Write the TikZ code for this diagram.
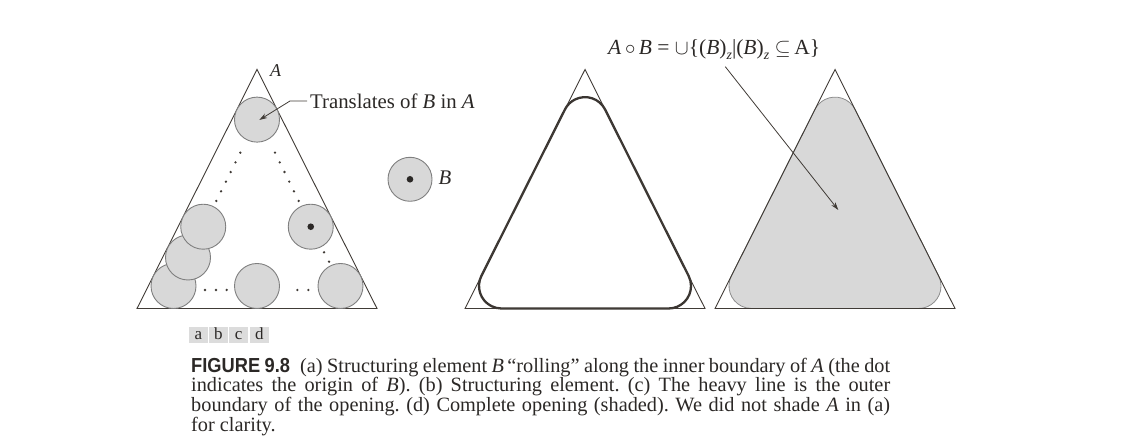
\documentclass[tikz,border=0pt]{standalone}
\usepackage{fontspec}
\setmainfont{Liberation Serif}
\newfontfamily\figfont{Liberation Sans}[FakeStretch=0.9]
\usetikzlibrary{arrows.meta,calc}
\definecolor{ink}{HTML}{403B36}
\definecolor{txt}{HTML}{2B2826}
\definecolor{diskfill}{HTML}{D8D8D8}
\definecolor{diskline}{HTML}{7F7F7F}
\definecolor{heavy}{HTML}{3A3531}
\definecolor{cellgray}{HTML}{DCDCDC}
\definecolor{shadeline}{HTML}{8C8C8C}
\newcommand\TriPath[1]{({#1},368.5) -- ({#1+120},129.5) -- ({#1-120},129.5) -- cycle}
\newcommand\OpenPath[1]{({#1},318.37) ++(26.66:22.5) arc[start angle=26.66,end angle=153.34,radius=22.5] -- ($({#1-83.51},152)+(153.34:22.5)$) arc[start angle=153.34,end angle=270,radius=22.5] -- ($({#1+83.51},152)+(270:22.5)$) arc[start angle=270,end angle=386.66,radius=22.5] -- cycle}
\newcommand\TightLines{\lineskiplimit=-30pt\relax\lineskip=0pt\relax\frenchspacing}
\newcommand\SubZ{\raisebox{-4.5pt}{\fontsize{14}{14}\selectfont\textit{z}}}
\tikzset{
  tri/.style={draw=ink, line width=0.9pt, line join=miter},
  disk/.style={draw=diskline, fill=diskfill, line width=0.9pt},
  heavyline/.style={draw=heavy, line width=2.3pt},
  shaded/.style={draw=shadeline, fill=diskfill, line width=0.8pt},
  arr/.style={draw=ink, line width=0.8pt, -{Stealth[length=8pt,width=5pt]}},
  lbl/.style={text=txt, inner sep=0pt, font=\fontsize{20.8}{22}\selectfont},
  cell/.style={fill=cellgray, inner sep=0pt, text height=12.9pt, text depth=3.7pt, align=center, text=txt, font=\fontsize{17}{17}\selectfont},
}
\begin{document}
\begin{tikzpicture}[x=1pt,y=1pt]
\useasboundingbox (0,0) rectangle (1139,438);
% ---------- (a) ----------
\draw[tri] \TriPath{257};
\filldraw[disk] (173.5,152) circle (22.5);
\filldraw[disk] (188,180.5) circle (22.5);
\filldraw[disk] (203.24,211.28) circle (22.5);
\filldraw[disk] (257,318.37) circle (22.5);
\filldraw[disk] (257,152) circle (22.5);
\filldraw[disk] (340.5,152) circle (22.5);
\filldraw[disk] (310.76,211.28) circle (22.5);
\fill[txt] (310.76,211.28) circle (3.3);
\foreach \i in {0,...,5} {
  \fill[ink] ($(240.3,285.3)!\i/5!(216.3,237)$) circle (1.3);
  \fill[ink] ($(275,285.3)!\i/5!(298.7,237)$) circle (1.3);
}
\foreach \p in {(205,148),(216,148),(226.7,148),(297.3,148),(308.3,148),(324,185.7),(329,176.3)}
  \fill[ink] \p circle (1.3);
\node[lbl, anchor=base west, font=\fontsize{18}{20}\selectfont] (labA) at (270,361.3) {\textit{A}};
\node[lbl, anchor=base west] (trans) at (310,329.7) {Translates of \textit{B} in \textit{A}};
\coordinate (transbend) at (290,337);
\coordinate (transtip) at (259.3,318);
\draw[arr] ($(trans.west)+(-3,0)$ |- transbend) -- (transbend) -- (transtip);
% ---------- (b) ----------
\filldraw[disk] (410,258.7) circle (22);
\fill[txt] (410,258.7) circle (3.3);
\node[lbl, anchor=base west] (labB) at (438.3,253) {\textit{B}};
% ---------- (c) ----------
\draw[heavyline] \OpenPath{585};
\draw[tri] \TriPath{585};
% ---------- (d) ----------
\filldraw[shaded] \OpenPath{835};
\draw[tri] \TriPath{835};
\node[lbl, anchor=base west, font=\fontsize{21.5}{22}\selectfont] (formula) at (608,383)
  {\textit{A}\,$\circ$\,\textit{B} = $\cup$\{(\textit{B})\SubZ|(\textit{B})\SubZ\ $\subseteq$\,A\}};
\coordinate (ftail) at (725.3,371.3);
\coordinate (ftip) at (838.3,228);
\draw[arr] (ftail) -- (ftip);
% ---------- caption ----------
\node[cell, text width=18.7pt] (ca) at (198.3,103) {a};
\node[cell, text width=18.7pt] (cb) at (218.3,103) {b};
\node[cell, text width=19.3pt] (cc) at (238.7,103) {c};
\node[cell, text width=19.3pt] (cd) at (259.3,103) {d};
\node[anchor=base west, inner sep=0pt, text width=699pt, align=justify, text=txt,
      font=\fontsize{20.3}{17.4}\selectfont] (caption) at (191,65.7) {\TightLines
{\figfont\bfseries FIGURE 9.8}\enspace (a) Structuring element \textit{B}\,``rolling'' along the inner boundary of \textit{A} (the dot\linebreak
indicates the origin of \textit{B}). (b) Structuring element. (c) The heavy line is the outer\linebreak
boundary of the opening. (d) Complete opening (shaded). We did not shade \textit{A} in (a)\linebreak
for clarity.};
\end{tikzpicture}
\end{document}
